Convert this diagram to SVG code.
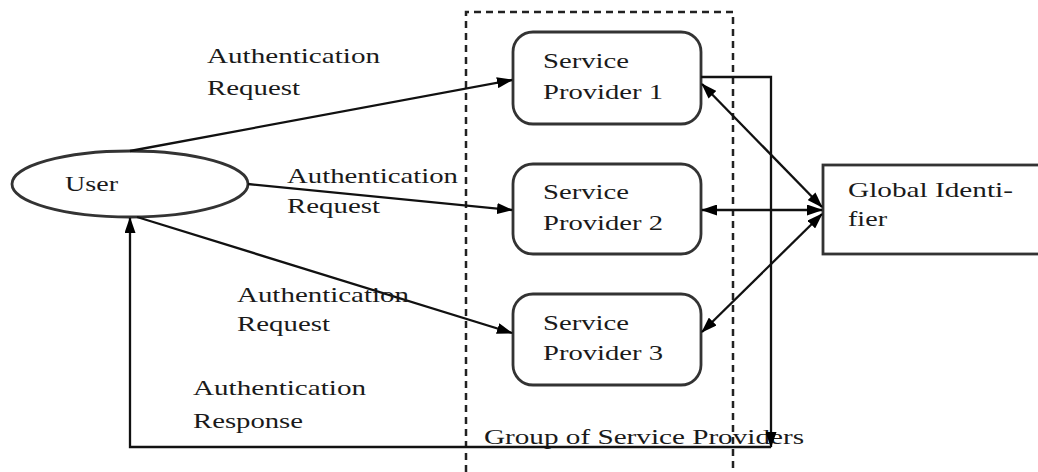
<svg xmlns="http://www.w3.org/2000/svg" width="1038" height="472" viewBox="0 0 1038 472">
<style>
text{font-family:"Liberation Serif","Times New Roman",serif;font-size:22px;fill:#1a1a1a}
.box{fill:#fff;stroke:#333;stroke-width:2.8}
.ln{fill:none;stroke:#111;stroke-width:2.3}
.dash{fill:none;stroke:#222;stroke-width:2.5;stroke-dasharray:7 5}
</style>
<defs>
<marker id="ah" viewBox="0 0 16 11" refX="15" refY="5.5" markerWidth="16" markerHeight="11" markerUnits="userSpaceOnUse" orient="auto-start-reverse">
<path d="M0,0 L16,5.5 L0,11 Z" fill="#000"/>
</marker>
</defs>
<rect width="1038" height="472" fill="#fff"/>
<g id="group">
<path class="dash" d="M466,472 V12 H733 V472"/>
<text x="484" y="444" textLength="320" lengthAdjust="spacingAndGlyphs">Group of Service Providers</text>
</g>
<g id="user">
<ellipse cx="130" cy="184" rx="118" ry="33" class="box"/>
<text x="65" y="191" textLength="53" lengthAdjust="spacingAndGlyphs">User</text>
</g>
<g id="sp1">
<rect x="513" y="32" width="188" height="92" rx="20" class="box"/>
<text x="543" y="68" textLength="86" lengthAdjust="spacingAndGlyphs">Service</text>
<text x="543" y="99" textLength="120" lengthAdjust="spacingAndGlyphs">Provider 1</text>
</g>
<g id="sp2">
<rect x="513" y="164" width="188" height="90" rx="20" class="box"/>
<text x="543" y="199" textLength="86" lengthAdjust="spacingAndGlyphs">Service</text>
<text x="543" y="230" textLength="120" lengthAdjust="spacingAndGlyphs">Provider 2</text>
</g>
<g id="sp3">
<rect x="513" y="294" width="188" height="91" rx="20" class="box"/>
<text x="543" y="330" textLength="86" lengthAdjust="spacingAndGlyphs">Service</text>
<text x="543" y="360" textLength="120" lengthAdjust="spacingAndGlyphs">Provider 3</text>
</g>
<g id="global">
<rect x="823" y="165" width="220" height="89" class="box"/>
<text x="848" y="197" textLength="165" lengthAdjust="spacingAndGlyphs">Global Identi-</text>
<text x="848" y="226" textLength="39" lengthAdjust="spacingAndGlyphs">fier</text>
</g>
<g id="connectors">
<path class="ln" d="M130,151 L512,80" marker-end="url(#ah)"/>
<path class="ln" d="M248,184 L512,210" marker-end="url(#ah)"/>
<path class="ln" d="M137,217 L512,333" marker-end="url(#ah)"/>
<path class="ln" d="M822,207 L702,84" marker-start="url(#ah)" marker-end="url(#ah)"/>
<path class="ln" d="M822,210 L702,210" marker-start="url(#ah)" marker-end="url(#ah)"/>
<path class="ln" d="M822,214 L702,332" marker-start="url(#ah)" marker-end="url(#ah)"/>
<path class="ln" d="M701,77 H771 V447" marker-end="url(#ah)"/>
<path class="ln" d="M771,447 H130 V218" marker-end="url(#ah)"/>
<text x="207" y="63" textLength="173" lengthAdjust="spacingAndGlyphs">Authentication</text>
<text x="207" y="95" textLength="93" lengthAdjust="spacingAndGlyphs">Request</text>
<text x="287" y="183" textLength="171" lengthAdjust="spacingAndGlyphs">Authentication</text>
<text x="287" y="213" textLength="93" lengthAdjust="spacingAndGlyphs">Request</text>
<text x="237" y="302" textLength="172" lengthAdjust="spacingAndGlyphs">Authentication</text>
<text x="237" y="331" textLength="93" lengthAdjust="spacingAndGlyphs">Request</text>
<text x="193" y="395" textLength="173" lengthAdjust="spacingAndGlyphs">Authentication</text>
<text x="193" y="428" textLength="110" lengthAdjust="spacingAndGlyphs">Response</text>
</g>
</svg>
